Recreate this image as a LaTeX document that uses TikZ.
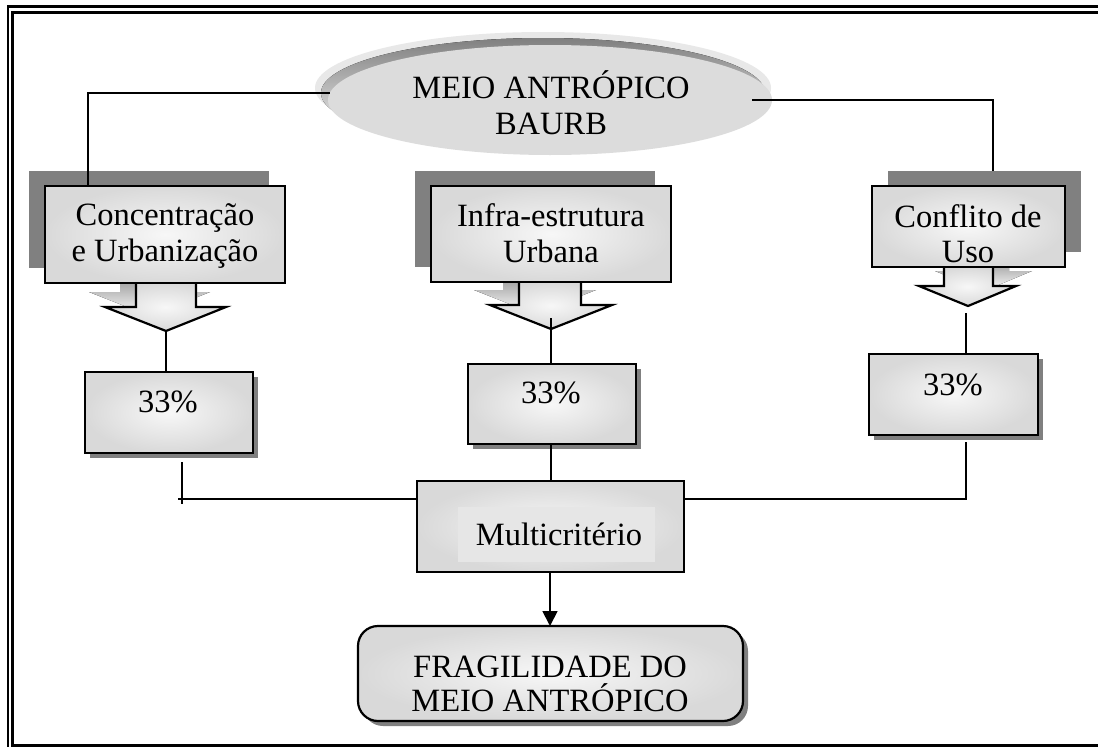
\documentclass[tikz,border=0pt]{standalone}
\usepackage{fontspec}
\setmainfont{Liberation Serif}
\usetikzlibrary{arrows.meta,calc,shadows,shapes.geometric}

\definecolor{shade}{HTML}{808080}
\definecolor{boxgray}{HTML}{D9D9D9}
\definecolor{boxlight}{HTML}{F7F7F7}
\definecolor{ovalgray}{HTML}{DCDCDC}
\definecolor{ovallight}{HTML}{E8E8E8}
\definecolor{innerlight}{HTML}{E6E6E6}

\tikzset{
  lbl/.style={anchor=base, inner sep=0pt, font=\fontsize{32.5pt}{36pt}\selectfont},
  boxfill/.style={inner color=boxlight, outer color=boxgray},
  outline/.style={draw=black, line width=2.2pt},
  link/.style={draw=black, line width=1.8pt},
  card/.style={rectangle, outline, boxfill, inner sep=0pt, outer sep=0pt},
  shadowleft/.style={drop shadow={shadow xshift=-16pt, shadow yshift=15pt, fill=shade, opacity=1}},
  shadowright/.style={drop shadow={shadow xshift=16pt, shadow yshift=15pt, fill=shade, opacity=1}},
  shadowsmall/.style={drop shadow={shadow xshift=5pt, shadow yshift=-5pt, fill=shade, opacity=1}},
}

% block arrow below a box: #1 shaft left, #2 shaft right, #3 top, #4 wing line,
% #5 wing left, #6 wing right, #7 tip x, #8 tip y
\newcommand{\blockarrowpath}[8]{(#1,#3) -- (#1,#4) -- (#5,#4) -- (#7,#8) -- (#6,#4) -- (#2,#4) -- (#2,#3)}

\begin{document}
\begin{tikzpicture}[x=1pt, y=-1pt]
\useasboundingbox (0,0) rectangle (1098,747);
\clip (0,0) rectangle (1098,747);
\fill[white] (0,0) rectangle (1098,747);

% double frame
\draw[line width=2.3pt] (8,6.5) rectangle (1112,755);
\draw[line width=2.3pt] (12.5,12.5) rectangle (1104,745.5);

% oval heading with its layered rim
\fill[ovallight] (543,88) ellipse [x radius=228pt, y radius=56pt];
\fill[shade] (543,93) ellipse [x radius=222pt, y radius=55pt];
\node[ellipse, fill=ovalgray, minimum width=444pt, minimum height=110pt, inner sep=0pt] (e) at (550,100) {};
\node[lbl] (e1) at (551,98) {MEIO ANTRÓPICO};
\node[lbl] (e2) at (551,134) {BAURB};

% arrow shadows
\fill[shade, shift={(-16,-15)}] \blockarrowpath{136}{196}{283}{307}{105}{226}{166}{331} -- cycle;
\fill[shade, shift={(-16,-15)}] \blockarrowpath{519}{581}{282}{305}{490}{612}{551}{329} -- cycle;
\fill[shade, shift={(16,-15)}] \blockarrowpath{944}{993}{267}{286}{919}{1016}{968}{306} -- cycle;

% block arrows
\path[boxfill] \blockarrowpath{136}{196}{283}{307}{105}{226}{166}{331} -- cycle;
\draw[outline, line join=miter] \blockarrowpath{136}{196}{283}{307}{105}{226}{166}{331};
\coordinate (t1) at (166,331);
\path[boxfill] \blockarrowpath{519}{581}{282}{305}{490}{612}{551}{329} -- cycle;
\draw[outline, line join=miter] \blockarrowpath{519}{581}{282}{305}{490}{612}{551}{329};
\coordinate (t2) at (551,318);
\path[boxfill] \blockarrowpath{944}{993}{267}{286}{919}{1016}{968}{306} -- cycle;
\draw[outline, line join=miter] \blockarrowpath{944}{993}{267}{286}{919}{1016}{968}{306};
\coordinate (t3) at (966,313);

% criteria boxes
\node[card, shadowleft, minimum width=240pt, minimum height=97pt] (c1) at (165,234.5) {};
\node[lbl] (c1a) at (165,225) {Concentração};
\node[lbl] (c1b) at (165,261) {e Urbanização};

\node[card, shadowleft, minimum width=240pt, minimum height=96pt] (c2) at (551,234) {};
\node[lbl] (c2a) at (551,226) {Infra-estrutura};
\node[lbl] (c2b) at (551,262) {Urbana};

\node[card, shadowright, minimum width=193pt, minimum height=81pt] (c3) at (968.5,226.5) {};
\node[lbl] (c3a) at (968,227) {Conflito de};
\node[lbl] (c3b) at (968,262) {Uso};

% weights
\node[card, shadowsmall, minimum width=168pt, minimum height=81pt] (p1) at (169,412.5) {};
\node[lbl] (p1t) at (168,412) {33\%};
\node[card, shadowsmall, minimum width=168pt, minimum height=80pt] (p2) at (552,404) {};
\node[lbl] (p2t) at (551,403) {33\%};
\node[card, shadowsmall, minimum width=169pt, minimum height=81pt] (p3) at (953.5,394.5) {};
\node[lbl] (p3t) at (953,395) {33\%};

% combination
\node[card, minimum width=267pt, minimum height=91pt] (m) at (550.5,526.5) {};
\fill[innerlight] (458,507) rectangle (655,562);
\node[lbl] (mt) at (559,545) {Multicritério};

% result
\node[card, rounded corners=20pt, shadowsmall, minimum width=385pt, minimum height=95pt] (f) at (550.5,673.5) {};
\node[lbl] (f1) at (550,677) {FRAGILIDADE DO};
\node[lbl] (f2) at (550,711) {MEIO ANTRÓPICO};

% routing points of the connectors
\coordinate (lc) at (88,93);
\coordinate (rc) at (993,100);
\coordinate (lb) at (182,499);
\coordinate (rb) at (966,499);
\coordinate (mid) at (551,0);
\coordinate (down) at (550,0);

% connectors
\draw[link] ($(lc -| e.west)+(2,0)$) -- (lc) -- (lc |- c1.north);
\draw[link] ([xshift=-20pt]e.east) -- (rc) -- ($(rc |- c3.north)+(0,-15)$);
\draw[link] (t1) -- (t1 |- p1.north);
\draw[link] (t2) -- (t2 |- p2.north);
\draw[link] (t3) -- (t3 |- p3.north);
\draw[link] ($(lb |- p1.south)+(0,9)$) -- ($(lb)+(0,5)$);
\draw[link] ($(lb)+(-4,0)$) -- (lb -| m.west);
\draw[link] (mid |- p2.south) -- (mid |- m.north);
\draw[link] ($(rb |- p3.south)+(0,7)$) -- (rb) -- (rb -| m.east);
\draw[link, -{Triangle[length=15pt, width=15pt]}] (down |- m.south) -- (down |- f.north);
\end{tikzpicture}
\end{document}
